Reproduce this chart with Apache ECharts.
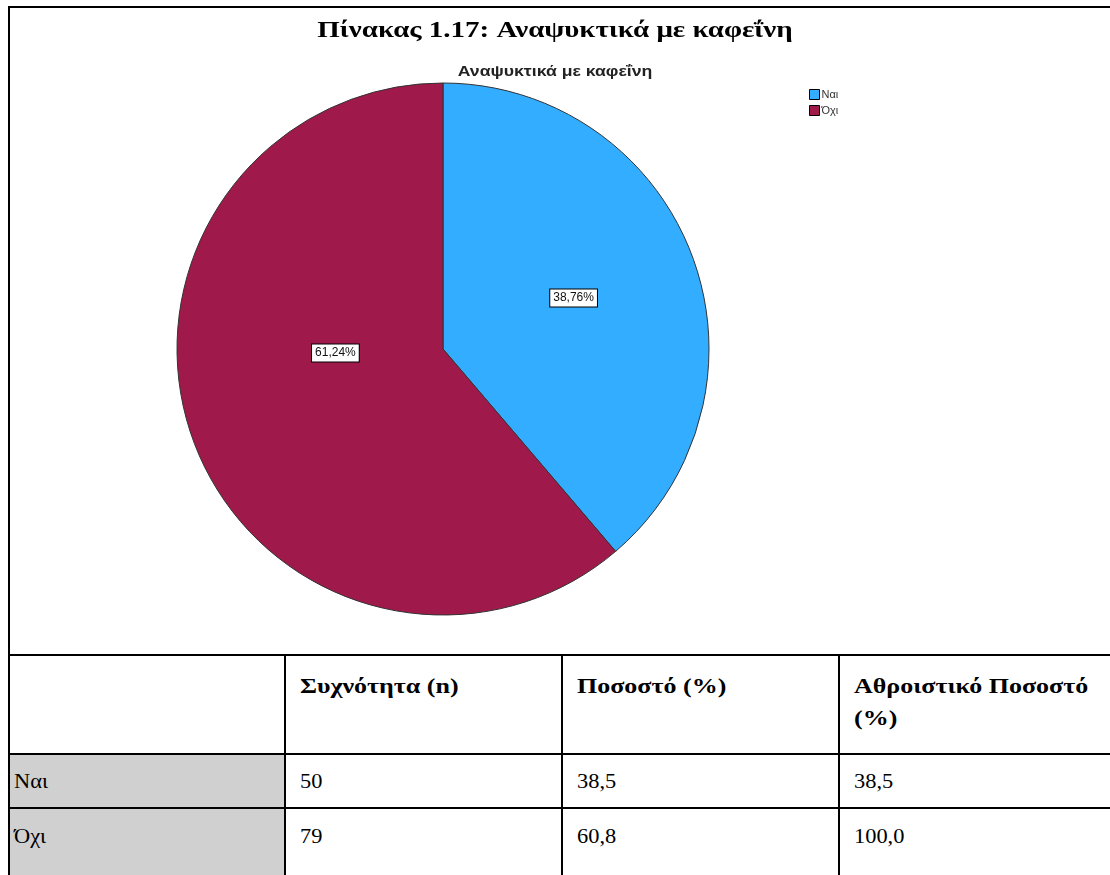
<!DOCTYPE html>
<html>
<head>
<meta charset="utf-8">
<title>Πίνακας 1.17</title>
<script src="https://cdn.jsdelivr.net/npm/echarts@6/dist/echarts.min.js"></script>
<style>
html,body{margin:0;padding:0;background:#fff;overflow:hidden;}
#page{position:relative;width:1110px;height:875px;overflow:hidden;}
#main{position:absolute;left:0;top:0;width:1110px;height:654px;}
.ln{position:absolute;background:#000;}
.cell{position:absolute;font-family:"Liberation Serif","Times New Roman",serif;font-size:20px;line-height:32px;color:#000;transform-origin:0 0;}
.hd{font-weight:bold;transform:scaleX(1.3);}
.dt{transform:scaleX(1.12);}
.gray{position:absolute;background:#d0d0d0;}
</style>
</head>
<body>
<div id="page">
  <div id="main"></div>
</div>
<script>
// data
var categories = ['Ναι', 'Όχι'];
var counts = [50, 79];
var percents = ['38,5', '60,8'];
var cumPercents = ['38,5', '100,0'];
var headers = ['', 'Συχνότητα (n)', 'Ποσοστό (%)', 'Αθροιστικό Ποσοστό (%)'];
var tableTitle = 'Πίνακας 1.17: Αναψυκτικά με καφεΐνη';
var chartTitle = 'Αναψυκτικά με καφεΐνη';

var colors = ['#33adff', '#a0194b'];
var labelOffsets = [[3, -4], [20, -43]];

var page = document.getElementById('page');
function box(cls, x, y, w, h, html) {
    var d = document.createElement('div');
    d.className = cls;
    d.style.left = x + 'px'; d.style.top = y + 'px';
    d.style.width = w + 'px'; d.style.height = h + 'px';
    if (html) d.innerHTML = html;
    page.appendChild(d);
}

// table below the chart
var colX = [10, 286, 563, 840];
var rowY = [656, 755, 809];
var rowH = [97, 52, 70];
for (var r = 1; r < rowY.length; r++) box('gray', 10, rowY[r], 274, rowH[r]);
box('ln', 8, 6, 1110, 2);
box('ln', 8, 6, 2, 875);
box('ln', 8, 654, 1110, 2);
box('ln', 8, 753, 1110, 2);
box('ln', 8, 807, 1110, 2);
box('ln', 284, 654, 2, 230);
box('ln', 561, 654, 2, 230);
box('ln', 838, 654, 2, 230);

for (var c = 1; c < headers.length; c++) {
    box('cell hd', colX[c] + 14, 670, 196, 70, headers[c]);
}
var rowsText = [];
for (var i = 0; i < categories.length; i++) {
    rowsText.push([categories[i], String(counts[i]), percents[i], cumPercents[i]]);
}
var textTop = [765, 820];
for (var i = 0; i < rowsText.length; i++) {
    for (var c = 0; c < rowsText[i].length; c++) {
        box('cell dt', c === 0 ? 14 : colX[c] + 14, textTop[i], 200, 32, rowsText[i][c]);
    }
}

// pie chart
var myChart = echarts.init(document.getElementById('main'));
var pieData = [];
for (var i = 0; i < categories.length; i++) {
    pieData.push({
        name: categories[i], value: counts[i],
        itemStyle: {color: colors[i]},
        label: {offset: labelOffsets[i]}
    });
}
myChart.setOption({
    animation: false,
    graphic: [
        {type: 'text', x: 555, y: 31, scaleX: 1.26, silent: true,
         style: {text: tableTitle, font: 'bold 23px "Liberation Serif"', fill: '#000',
                 textAlign: 'center', textVerticalAlign: 'middle'}},
        {type: 'text', x: 555, y: 72, scaleX: 1.26, silent: true,
         style: {text: chartTitle, font: 'bold 14px "Liberation Sans"', fill: '#222',
                 textAlign: 'center', textVerticalAlign: 'middle'}}
    ],
    legend: {
        orient: 'vertical', left: 809, top: 89, padding: 0,
        itemWidth: 10, itemHeight: 10, itemGap: 5, icon: 'rect',
        itemStyle: {borderColor: '#000', borderWidth: 1},
        textStyle: {fontFamily: 'Liberation Sans', fontSize: 11, color: '#333', padding: [0, 0, 0, -3]},
        data: categories
    },
    series: [{
        type: 'pie', center: [443, 349], radius: 266,
        startAngle: 90, clockwise: true, silent: true,
        itemStyle: {borderColor: '#333', borderWidth: 1},
        label: {
            show: true, position: 'inside',
            formatter: function(p){ return p.percent.toFixed(2).replace('.', ',') + '%'; },
            fontFamily: 'Liberation Sans', fontSize: 12, color: '#111',
            backgroundColor: '#fff', borderColor: '#000', borderWidth: 1, padding: [3, 3, 2, 3]
        },
        labelLine: {show: false},
        emphasis: {disabled: true},
        data: pieData
    }]
});
</script>
</body>
</html>
